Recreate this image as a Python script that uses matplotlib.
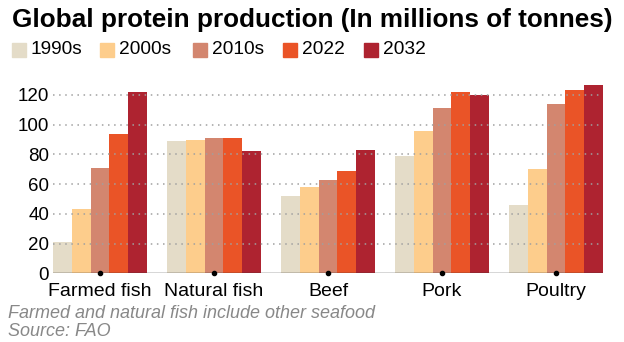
import numpy as np
import matplotlib
matplotlib.use("Agg")
import matplotlib.pyplot as plt
from matplotlib.patches import Rectangle

plt.rcParams['font.family'] = ['Liberation Sans', 'DejaVu Sans']

categories = ['Farmed fish', 'Natural fish', 'Beef', 'Pork', 'Poultry']
series = ['1990s', '2000s', '2010s', '2022', '2032']
v1990s = [21, 89, 52, 79, 46]
v2000s = [43, 90, 58, 96, 70]
v2010s = [71, 91, 63, 111, 114]
v2022 = [94, 91, 69, 122, 123]
v2032 = [122, 82, 83, 120, 127]
yticks = [0, 20, 40, 60, 80, 100, 120]

colors = ['#e4dcc8', '#fdcd8c', '#d3866f', '#ea5427', '#ae2330']
values = [v1990s, v2000s, v2010s, v2022, v2032]

fig = plt.figure(figsize=(6.24, 3.42), dpi=100)
ax = fig.add_axes([0.0855, 0.2009, 0.8804, 0.565])

x = np.arange(len(categories))
w = 0.164
for i, (s, v) in enumerate(zip(series, values)):
    ax.bar(x + (i - 2) * w, v, width=w, color=colors[i], zorder=1, label=s)

ax.set_xlim(-0.41, len(categories) - 1 + 0.41)
ax.set_ylim(0, 130)
ax.set_yticks(yticks)
ax.set_xticks(x)
ax.set_xticklabels(categories, fontsize=14)
ax.tick_params(axis='both', length=0, labelsize=13.5)
ax.tick_params(axis='x', pad=7, labelsize=14)
ax.tick_params(axis='y', pad=3)
for sp in ax.spines.values():
    sp.set_visible(False)

for t in yticks[1:]:
    ax.axhline(t, color='#a0a0a0', lw=1.1, linestyle=(0, (1, 3)), zorder=3)
ax.axhline(0, color='#333333', lw=1, zorder=4)
ax.plot(x, np.zeros(len(x)), 'o', color='black', markersize=3, zorder=5, clip_on=False)

fig.text(0.019, 0.921, 'Global protein production (In millions of tonnes)',
         fontsize=18.8, fontweight='bold', ha='left', va='baseline')

# legend row
lx = [12, 100, 193, 283, 364]
for px, s, c in zip(lx, series, colors):
    fig.patches.append(Rectangle((px / 624, 1 - 57 / 342), 14 / 624, 14 / 342,
                                 transform=fig.transFigure, color=c))
    fig.text((px + 19) / 624, 1 - 50 / 342, s, fontsize=13.8, ha='left', va='center')

fig.text(0.013, 1 - 313 / 342, 'Farmed and natural fish include other seafood',
         fontsize=13, style='italic', color='#888888', ha='left', va='center')
fig.text(0.013, 1 - 332 / 342, 'Source: FAO',
         fontsize=13, style='italic', color='#888888', ha='left', va='center')

fig.savefig('out.png', dpi=100)
